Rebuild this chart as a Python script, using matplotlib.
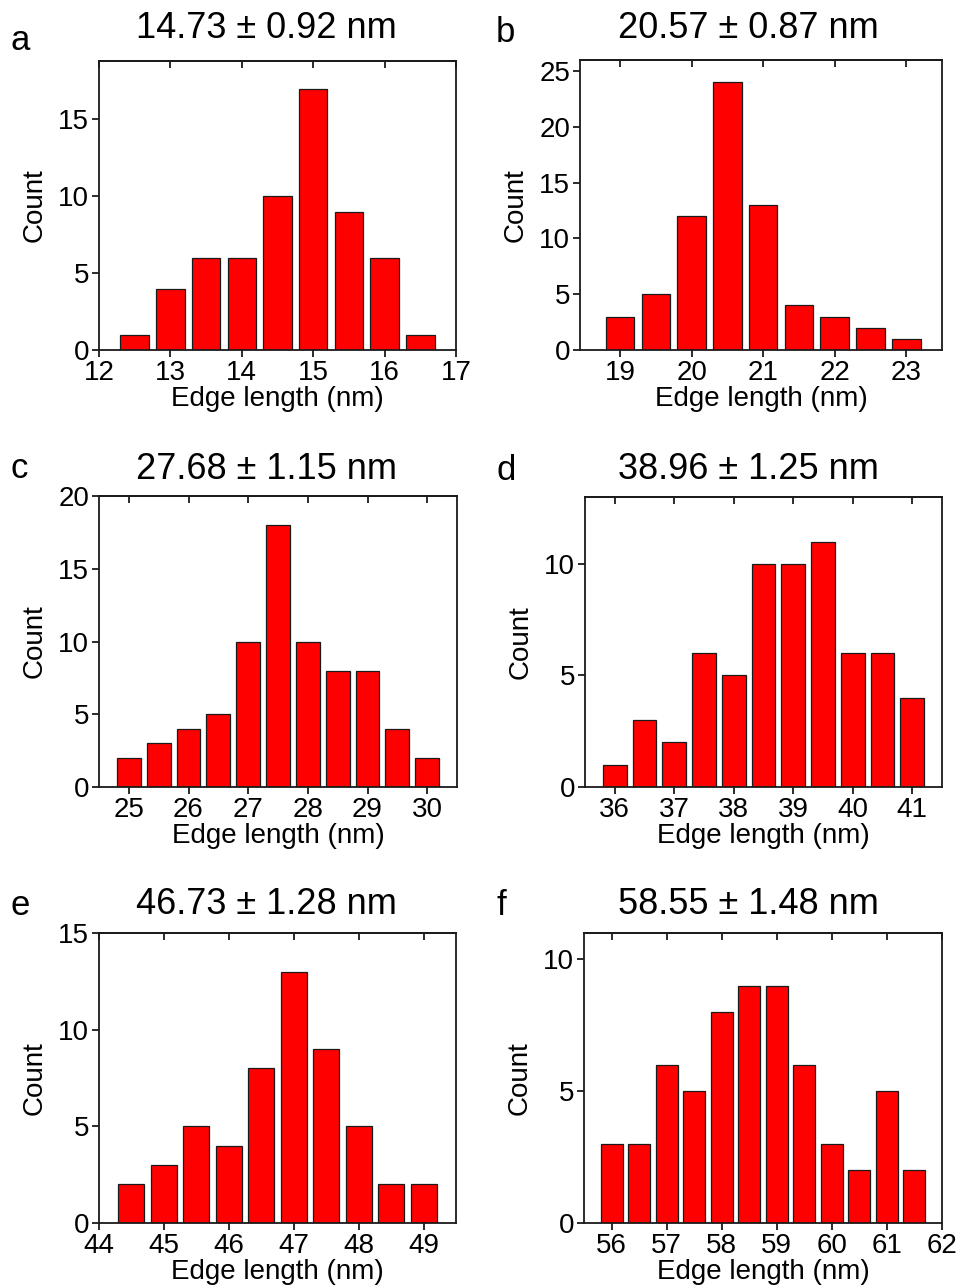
import matplotlib
matplotlib.use('Agg')
import matplotlib.pyplot as plt

plt.rcParams['font.family'] = ['Liberation Sans', 'DejaVu Sans']

# ---- data ----
a_centers = [12.5, 13, 13.5, 14, 14.5, 15, 15.5, 16, 16.5]
a_counts = [1, 4, 6, 6, 10, 17, 9, 6, 1]
a_xticks = [12, 13, 14, 15, 16, 17]
a_yticks = [0, 5, 10, 15]
a_title = "14.73 ± 0.92 nm"

b_centers = [19, 19.5, 20, 20.5, 21, 21.5, 22, 22.5, 23]
b_counts = [3, 5, 12, 24, 13, 4, 3, 2, 1]
b_xticks = [19, 20, 21, 22, 23]
b_yticks = [0, 5, 10, 15, 20, 25]
b_title = "20.57 ± 0.87 nm"

c_centers = [25, 25.5, 26, 26.5, 27, 27.5, 28, 28.5, 29, 29.5, 30]
c_counts = [2, 3, 4, 5, 10, 18, 10, 8, 8, 4, 2]
c_xticks = [25, 26, 27, 28, 29, 30]
c_yticks = [0, 5, 10, 15, 20]
c_title = "27.68 ± 1.15 nm"

d_centers = [36, 36.5, 37, 37.5, 38, 38.5, 39, 39.5, 40, 40.5, 41]
d_counts = [1, 3, 2, 6, 5, 10, 10, 11, 6, 6, 4]
d_xticks = [36, 37, 38, 39, 40, 41]
d_yticks = [0, 5, 10]
d_title = "38.96 ± 1.25 nm"

e_centers = [44.5, 45, 45.5, 46, 46.5, 47, 47.5, 48, 48.5, 49]
e_counts = [2, 3, 5, 4, 8, 13, 9, 5, 2, 2]
e_xticks = [44, 45, 46, 47, 48, 49]
e_yticks = [0, 5, 10, 15]
e_title = "46.73 ± 1.28 nm"

f_centers = [56, 56.5, 57, 57.5, 58, 58.5, 59, 59.5, 60, 60.5, 61, 61.5]
f_counts = [3, 3, 6, 5, 8, 9, 9, 6, 3, 2, 5, 2]
f_xticks = [56, 57, 58, 59, 60, 61, 62]
f_yticks = [0, 5, 10]
f_title = "58.55 ± 1.48 nm"

letters = ["a", "b", "c", "d", "e", "f"]

# ---- layout (pixels) ----
W, H = 959, 1287
fig = plt.figure(figsize=(W / 100, H / 100), dpi=100)

panels = [
    # data, ticks, xlim, ylim, axes box (l, r, t, b), title center (x, y), letter pos (x, y)
    (a_centers, a_counts, a_xticks, a_yticks, (12, 17), (0, 18.8), (99, 456, 61, 350), (266, 29), (10, 50), a_title),
    (b_centers, b_counts, b_xticks, b_yticks, (18.44, 23.5), (0, 26), (580, 942, 60, 350), (748, 29), (496, 42), b_title),
    (c_centers, c_counts, c_xticks, c_yticks, (24.5, 30.5), (0, 20), (99, 457, 496, 787), (266, 469), (10, 478), c_title),
    (d_centers, d_counts, d_xticks, d_yticks, (35.5, 41.5), (0, 13), (585, 942, 497, 787), (748, 469), (496, 480), d_title),
    (e_centers, e_counts, e_xticks, e_yticks, (44, 49.5), (0, 15), (99, 456, 933, 1223), (266, 904), (10, 915), e_title),
    (f_centers, f_counts, f_xticks, f_yticks, (55.5, 62), (0, 11), (584, 942, 933, 1223), (748, 904), (496, 915), f_title),
]

edge = '#1a1a1a'
for i, (cx, cnt, xt, yt, xl, yl, box, tpos, lpos, title) in enumerate(panels):
    l, r, t, b = box
    ax = fig.add_axes([l / W, 1 - b / H, (r - l) / W, (b - t) / H])
    ax.bar(cx, cnt, width=0.4, color='#FF0000', edgecolor=edge, linewidth=0.9)
    ax.set_xlim(*xl)
    ax.set_ylim(*yl)
    ax.set_xticks(xt)
    ax.set_yticks(yt)
    ax.tick_params(axis='both', direction='out', length=5, width=1.3,
                   labelsize=20, pad=2, color=edge)
    ax.tick_params(axis='y', right=False)
    for s in ax.spines.values():
        s.set_linewidth(1.3)
        s.set_color(edge)
    sec = ax.secondary_xaxis('top')
    sec.set_xticks(xt)
    sec.tick_params(axis='x', direction='in', length=5, width=1.3, color=edge,
                    labeltop=False, labelbottom=False)
    sec.spines['top'].set_linewidth(1.3)
    sec.spines['top'].set_color(edge)
    ax.set_xlabel("Edge length (nm)", fontsize=20, labelpad=0)
    ax.set_ylabel("Count", fontsize=20, labelpad=8)
    fig.text(tpos[0] / W, 1 - tpos[1] / H, title, fontsize=26,
             ha='center', va='center')
    fig.text(lpos[0] / W, 1 - lpos[1] / H, letters[i], fontsize=25,
             ha='left', va='baseline')

fig.savefig('out.png', dpi=100)
